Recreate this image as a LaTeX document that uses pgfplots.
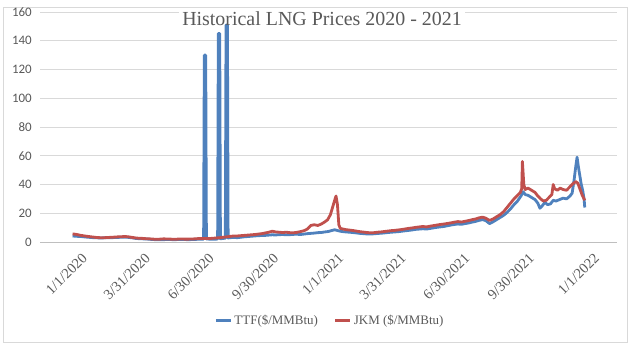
\documentclass[border=0pt]{standalone}
\usepackage{pgfplots}
\pgfplotsset{compat=1.18}
\usepackage{fontspec}
\setmainfont{Liberation Serif}
\newfontfamily\carlito{Carlito}
\definecolor{ttfblue}{HTML}{4F81BD}
\definecolor{jkmred}{HTML}{C0504D}
\definecolor{textgray}{HTML}{595959}
\definecolor{gridgray}{HTML}{D9D9D9}
\definecolor{axgray}{HTML}{BFBFBF}
\begin{document}
\begin{tikzpicture}
\path[use as bounding box] (0,0) rectangle (643bp,361bp);
\draw[gridgray, line width=0.6bp] (3bp,19bp) rectangle (627bp,354bp);
\begin{axis}[
 at={(40bp,119bp)}, anchor=south west,
 width=577bp, height=230bp, scale only axis,
 xmin=-46.5, xmax=777, ymin=0, ymax=160,
 ytick={0,20,...,160},
 xtick={0,90,181,273,366,455,546,638,731},
 xticklabels={1/1/2020,3/31/2020,6/30/2020,9/30/2020,1/1/2021,3/31/2021,6/30/2021,9/30/2021,1/1/2022},
 extra x ticks={-46.5,45,135.5,227,319.5,410.5,500.5,592,684.5,777},
 extra x tick labels={},
 extra x tick style={major tick length=5bp, tick align=outside, tick style={draw=axgray, line width=0.8bp}},
 xtick style={draw=none}, ytick style={draw=none},
 axis x line*=bottom, axis y line*=left,
 x axis line style={draw=axgray, line width=0.8bp, -},
 y axis line style={draw=none},
 ymajorgrids, grid style={draw=gridgray, line width=0.8bp},
 /pgf/number format/assume math mode=true,
 yticklabel pos=left,
 yticklabel style={font=\carlito\fontsize{13}{13}\selectfont, text=textgray, anchor=east, inner sep=0pt, xshift=-8bp},
 xticklabel style={rotate=45, anchor=north east, inner sep=0pt, yshift=-13bp, xshift=-1bp, font=\fontsize{14.5}{14.5}\selectfont, text=textgray},
 legend style={at={(0.5026,-0.343)}, anchor=center, draw=none, fill=none, legend columns=2,
   font=\fontsize{13}{13}\selectfont, text=textgray,
   /tikz/every even column/.append style={column sep=14bp}},
 legend image code/.code={\draw[#1, line width=3bp] (0bp,0bp) -- (15bp,0bp);},
 clip=false,
]
\addplot[ttfblue, line width=2.8bp, line join=round] coordinates {
(0,4.2) (4,4.0) (8,3.9) (12,3.8) (16,3.6) (20,3.4) (25,3.2) (30,3.0) (35,2.9) (40,2.8)
(45,2.9) (50,2.9) (55,3.0) (60,3.1) (65,3.2) (70,3.3) (75,3.4) (80,3.2) (85,2.9) (90,2.5)
(95,2.3) (100,2.2) (105,2.1) (110,1.9) (115,1.7) (120,1.6) (125,1.5) (130,1.6) (135,1.8) (140,1.7)
(145,1.6) (150,1.7) (155,1.8) (160,1.7) (165,1.6) (170,1.7) (175,1.8) (180,1.9) (185,2.0) (187,2.0)
(188,130) (190,130) (191,2.1) (195,2.0) (200,1.9) (205,2.0) (207,2.1) (208,145) (210,145) (211,2.2)
(215,2.5) (218,2.6) (219,151) (221,151) (222,2.8) (225,3.0) (230,3.2) (235,3.0) (240,3.3) (245,3.6)
(250,3.8) (255,4.0) (260,4.2) (265,4.4) (270,4.5) (275,4.6) (280,4.8) (285,5.0) (290,4.9) (295,5.1)
(300,5.2) (305,5.0) (310,5.1) (315,5.3) (320,5.4) (325,5.2) (330,5.5) (335,5.8) (340,6.0) (345,6.2)
(350,6.5) (355,6.6) (360,7.0) (365,7.3) (370,8.0) (374,8.5) (378,8.0) (382,7.5) (386,7.2) (390,7.0)
(395,6.8) (400,6.6) (405,6.3) (410,6.0) (415,5.8) (420,5.6) (425,5.5) (430,5.7) (435,5.9) (440,6.1)
(445,6.3) (450,6.6) (455,6.8) (460,7.0) (465,7.2) (470,7.5) (475,7.8) (480,8.1) (485,8.4) (490,8.8)
(495,9.0) (500,9.2) (505,9.0) (510,9.4) (515,9.8) (520,10.2) (525,10.5) (530,10.8) (535,11.3) (540,11.8)
(545,12.2) (550,12.5) (555,12.3) (560,12.8) (565,13.2) (570,13.8) (575,14.3) (580,15.0) (585,15.6) (590,14.8)
(595,12.8) (600,14.0) (605,15.5) (610,17.0) (615,18.5) (620,20.5) (625,23.0) (630,26.0) (635,28.5) (640,32.0)
(643,35.0) (646,33.0) (650,32.5) (655,31.0) (660,29.5) (664,27.0) (667,23.5) (670,25.0) (674,27.5) (678,26.0)
(682,26.5) (686,29.0) (690,28.5) (695,29.5) (700,30.5) (705,30.0) (710,32.0) (713,34.0) (716,44.0) (718,52.0)
(720,59.0) (722,52.0) (724,46.0) (726,40.0) (728,36.0) (729,33.0) (730,30.0) (731,24.0)
};
\addlegendentry{TTF(\$/MMBtu)}
\addplot[jkmred, line width=2.8bp, line join=round] coordinates {
(0,5.6) (4,5.4) (8,5.0) (12,4.6) (16,4.3) (20,4.0) (25,3.7) (30,3.4) (35,3.1) (40,3.0)
(45,3.0) (50,3.1) (55,3.3) (60,3.4) (65,3.6) (70,3.7) (75,3.8) (80,3.6) (85,3.2) (90,2.8)
(95,2.6) (100,2.5) (105,2.3) (110,2.2) (115,2.0) (120,1.9) (125,2.0) (130,2.2) (135,2.1) (140,2.0)
(145,1.9) (150,2.0) (155,2.1) (160,2.0) (165,2.0) (170,2.1) (175,2.2) (180,2.4) (185,2.5) (190,2.5)
(195,2.4) (200,2.6) (205,2.8) (210,3.0) (215,3.3) (220,3.6) (225,3.9) (230,4.2) (235,4.2) (240,4.4)
(245,4.6) (250,4.8) (255,5.0) (260,5.2) (265,5.5) (270,5.8) (275,6.3) (280,6.8) (285,7.5) (290,7.0)
(295,6.8) (300,6.6) (305,6.8) (310,6.5) (315,6.4) (320,6.7) (325,7.2) (330,7.8) (335,9.0) (340,11.5)
(345,12.0) (350,11.5) (355,12.5) (360,14.0) (364,15.5) (368,19.0) (371,24.0) (374,29.0) (376,32.0) (378,26.0)
(380,12.0) (382,9.5) (386,9.0) (390,8.6) (395,8.3) (400,8.0) (405,7.6) (410,7.2) (415,6.9) (420,6.6)
(425,6.4) (430,6.5) (435,6.8) (440,7.0) (445,7.3) (450,7.6) (455,7.9) (460,8.1) (465,8.4) (470,8.7)
(475,9.1) (480,9.5) (485,9.8) (490,10.2) (495,10.5) (500,10.8) (505,10.5) (510,11.0) (515,11.4) (520,11.8)
(525,12.2) (530,12.5) (535,12.9) (540,13.3) (545,13.8) (550,14.2) (555,13.9) (560,14.4) (565,14.9) (570,15.5)
(575,16.0) (580,16.8) (585,17.3) (590,16.5) (595,15.0) (600,16.0) (605,17.5) (610,19.0) (615,21.0) (620,24.0)
(625,27.0) (630,30.0) (635,32.5) (639,34.5) (641,37.0) (642,56.0) (644,40.0) (646,36.5) (650,37.5) (655,36.0)
(660,34.5) (664,32.0) (668,30.0) (672,28.5) (676,29.0) (680,31.0) (684,33.0) (686,40.0) (688,37.0) (692,36.0)
(696,37.5) (700,36.5) (705,36.0) (710,38.5) (714,40.5) (718,42.0) (721,41.0) (724,37.0) (727,33.0) (729,31.0)
(731,29.0)
};
\addlegendentry{JKM (\$/MMBtu)}
\end{axis}
\fill[white] (179bp,347.6bp) rectangle (465bp,350.4bp);
\node[inner sep=1bp, anchor=base, font=\fontsize{20}{20}\selectfont, text=textgray] at (322bp,335bp) {Historical LNG Prices 2020 - 2021};
\end{tikzpicture}
\end{document}
